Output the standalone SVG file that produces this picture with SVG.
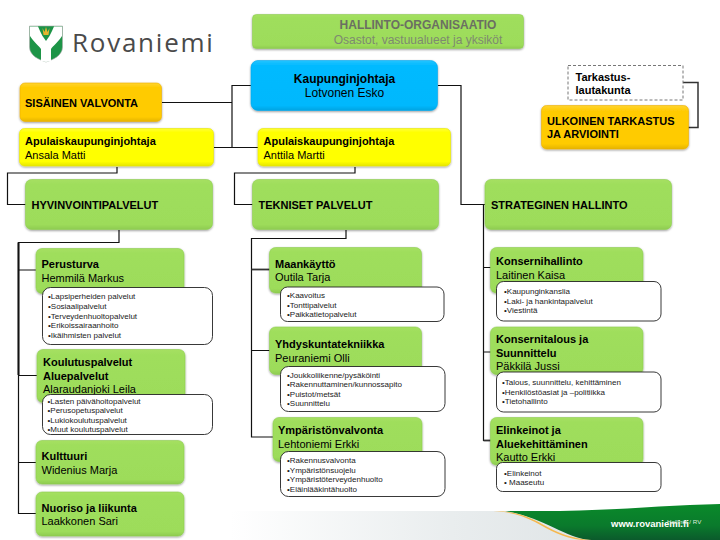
<svg xmlns="http://www.w3.org/2000/svg" width="720" height="540" viewBox="0 0 720 540">
<style>
text{font-family:"Liberation Sans",Arial,sans-serif;fill:#000}
.t{font-size:11px}
.l{font-size:12px}
.b{font-weight:bold}
.s{font-size:8px;fill:#1a1a1a}
.g{fill:url(#gr);stroke:#8fcf52;stroke-width:.6;filter:url(#sh)}
.y{fill:url(#ye);stroke:#e8e800;stroke-width:.6;filter:url(#sh)}
.o{fill:url(#or);stroke:#eeb000;stroke-width:.6;filter:url(#sh)}
.w{fill:#fff;stroke:#222;stroke-width:.9}
.c{fill:none;stroke:#111;stroke-width:1.2}
</style>
<defs>
<linearGradient id="gr" x1="0" y1="0" x2="0" y2="1"><stop offset="0" stop-color="#a6e062"/><stop offset=".1" stop-color="#9fde5c"/><stop offset=".9" stop-color="#9ddc5a"/><stop offset="1" stop-color="#8ecb50"/></linearGradient>
<linearGradient id="ye" x1="0" y1="0" x2="0" y2="1"><stop offset="0" stop-color="#ffff30"/><stop offset=".12" stop-color="#ffff00"/><stop offset=".88" stop-color="#ffff00"/><stop offset="1" stop-color="#e6e600"/></linearGradient>
<linearGradient id="or" x1="0" y1="0" x2="0" y2="1"><stop offset="0" stop-color="#ffd430"/><stop offset=".12" stop-color="#ffcb05"/><stop offset=".88" stop-color="#ffcb00"/><stop offset="1" stop-color="#e5b400"/></linearGradient>
<linearGradient id="bl" x1="0" y1="0" x2="0" y2="1"><stop offset="0" stop-color="#25c4ff"/><stop offset=".1" stop-color="#00baff"/><stop offset=".9" stop-color="#00b8fd"/><stop offset="1" stop-color="#00a4e2"/></linearGradient>
<linearGradient id="grey" x1="0" y1="0" x2="1" y2="0"><stop offset="0" stop-color="#fff"/><stop offset=".6" stop-color="#e9edee"/><stop offset="1" stop-color="#dfe4e6"/></linearGradient>
<linearGradient id="dk" x1="0" y1="0" x2="0" y2="1"><stop offset="0" stop-color="#0a8a2a"/><stop offset=".6" stop-color="#0a7a2c"/><stop offset="1" stop-color="#0b5a2c"/></linearGradient>
<filter id="sh" x="-5%" y="-5%" width="110%" height="125%"><feDropShadow dx="0" dy="1" stdDeviation=".8" flood-color="#000" flood-opacity=".4"/></filter>
</defs>

<g id="footer">
<rect x="230" y="511" width="370" height="29" fill="url(#grey)"/>
<path d="M505 511H560C620 510 670 505 720 504V540H590C565 538 545 518 505 511Z" fill="url(#dk)"/>
<path d="M493 511C515 511 530 517 542 524C558 533 572 539 592 540H582C562 538 550 530 535 522C522 515 510 512 493 511Z" fill="#f5b84f"/>
<text x="611" y="527" style="font-size:9.500px;font-weight:bold;fill:#fff">www.rovaniemi.fi</text>
<text x="667" y="524" style="font-size:6.200px;fill:#dfeadf">Hallinta / RV</text>
</g>

<g id="logo">
<path d="M29.500 26H62.500V47C62.500 56 52 60 46 62C40 60 29.500 56 29.500 47Z" fill="#1d9447" stroke="#aaa" stroke-width=".6"/>
<path d="M30 26.500H38L40 31L42.500 36L46 41L49.500 36L52 31L54 26.500H62V36C58 42 53 46 51 49V61L46 62L41 61V49C39 46 34 42 30 36Z" fill="#fff"/>
<path d="M42.500 28L44.500 32L46 27L47.500 32L49.500 28L48.500 35H43.500Z" fill="#e6b52e"/>
<text x="72" y="52" style="font-family:'Open Sans',sans-serif;font-size:26px;letter-spacing:1.750px;fill:#4a4a4a">Rovaniemi</text>
</g>

<g id="connectors">
<path class="c" d="M251 85.500H232V147.500M162 102.500H232M214 147.500H258"/>
<path class="c" d="M117 167V173H7.500V204.500H26"/>
<path class="c" d="M355 167V173H234.500V204.500H253"/>
<path class="c" d="M438 85.500H461V204.500H485"/>
<path d="M683 82.500H698V127.500H688" fill="none" stroke="#333" stroke-width="1.500"/>
<path class="c" d="M119 230V242.500H18.500V513.500H36M18.500 270H36M18.500 375.500H37M18.500 462.500H36"/>
<path d="M18.500 242.500V375" fill="none" stroke="#111" stroke-width="2"/>
<path class="c" d="M346 230V238.500H251.500V437H273M251.500 350.500H270"/>
<path d="M251.500 269.500H270" fill="none" stroke="#333" stroke-width="1.800"/>
<path class="c" d="M483.500 205V440.500H491M483.500 267.500H491M483.500 352H491"/>
<path d="M483.500 440.500H491" fill="none" stroke="#333" stroke-width="1.800"/>
</g>

<g id="title"><rect class="g" x="252.500" y="14.500" width="271" height="34" rx="4"/>
<text x="418" y="29" text-anchor="middle" class="l b" style="fill:#6b6f62">HALLINTO-ORGANISAATIO</text>
<text x="418" y="43.500" text-anchor="middle" class="l" style="fill:#7d8a70">Osastot, vastuualueet ja yksiköt</text></g>

<g id="kaupunginjohtaja"><rect x="251" y="60.500" width="186.500" height="50" rx="7" fill="url(#bl)" stroke="#00a8ec" stroke-width=".6" filter="url(#sh)"/>
<text x="344.500" y="82.500" text-anchor="middle" class="l b">Kaupunginjohtaja</text>
<text x="344.500" y="97" text-anchor="middle" class="l">Lotvonen Esko</text></g>

<g id="sisainen"><rect class="o" x="20" y="83" width="141.500" height="38.500" rx="5"/>
<text x="25" y="107" class="t b">SISÄINEN VALVONTA</text></g>

<g id="apulais1"><rect class="y" x="19.500" y="128.500" width="194" height="37.500" rx="5"/>
<text x="25" y="145" class="t b">Apulaiskaupunginjohtaja</text>
<text x="25" y="158.500" class="t">Ansala Matti</text></g>

<g id="apulais2"><rect class="y" x="258" y="128.500" width="192.500" height="37.500" rx="5"/>
<text x="263.500" y="145" class="t b">Apulaiskaupunginjohtaja</text>
<text x="263.500" y="158.500" class="t">Anttila Martti</text></g>

<g id="tarkastuslautakunta"><rect x="568" y="65.500" width="115" height="34.500" fill="#fff" stroke="#777" stroke-width="1" stroke-dasharray="3 2"/>
<text x="575.500" y="81" class="t b">Tarkastus-</text>
<text x="575.500" y="94" class="t b">lautakunta</text></g>

<g id="ulkoinen"><rect class="o" x="541.500" y="105.500" width="147" height="43.500" rx="5"/>
<text x="547" y="125" class="t b">ULKOINEN TARKASTUS</text>
<text x="547" y="138" class="t b">JA ARVIOINTI</text></g>

<g id="hyvinvointi"><rect class="g" x="25.500" y="179.500" width="187" height="50" rx="6"/>
<text x="31.500" y="209" class="t b">HYVINVOINTIPALVELUT</text></g>
<g id="tekniset"><rect class="g" x="252.500" y="179.500" width="186" height="50" rx="6"/>
<text x="258.500" y="209" class="t b">TEKNISET PALVELUT</text></g>
<g id="strateginen"><rect class="g" x="485" y="179.500" width="186.500" height="50" rx="6"/>
<text x="491" y="209" class="t b">STRATEGINEN HALLINTO</text></g>

<g id="perusturva"><rect class="g" x="36" y="248.500" width="148" height="45" rx="6"/>
<text x="41.500" y="268" class="t b">Perusturva</text>
<text x="41.500" y="281.500" class="t">Hemmilä Markus</text></g>
<g id="perusturva-list"><rect class="w" x="42.500" y="287.500" width="170" height="57" rx="8"/>
<text class="s" x="48" y="299">•Lapsiperheiden palvelut</text>
<text class="s" x="48" y="308.500">•Sosiaalipalvelut</text>
<text class="s" x="48" y="318.500">•Terveydenhuoltopalvelut</text>
<text class="s" x="48" y="328">•Erikoissairaanhoito</text>
<text class="s" x="48" y="337.500">•Ikäihmisten palvelut</text></g>

<g id="koulutus"><rect class="g" x="37" y="349.500" width="148" height="53" rx="6"/>
<text x="43" y="366" class="t b">Koulutuspalvelut</text>
<text x="43" y="379.500" class="t b">Aluepalvelut</text>
<text x="43" y="393" class="t">Alaraudanjoki Leila</text></g>
<g id="koulutus-list"><rect class="w" x="42.500" y="394.500" width="170" height="40" rx="8"/>
<text class="s" x="47.500" y="403.500">•Lasten päivähoitopalvelut</text>
<text class="s" x="47.500" y="413">•Perusopetuspalvelut</text>
<text class="s" x="47.500" y="422.500">•Lukiokoulutuspalvelut</text>
<text class="s" x="47.500" y="432">•Muut koulutuspalvelut</text></g>

<g id="kulttuuri"><rect class="g" x="36" y="440.500" width="148" height="43.500" rx="6"/>
<text x="41.500" y="460" class="t b">Kulttuuri</text>
<text x="41.500" y="473.500" class="t">Widenius Marja</text></g>
<g id="nuoriso"><rect class="g" x="36" y="492" width="148" height="44" rx="6"/>
<text x="41.500" y="512" class="t b">Nuoriso ja liikunta</text>
<text x="41.500" y="525" class="t">Laakkonen Sari</text></g>

<g id="maankaytto"><rect class="g" x="269.500" y="247.500" width="152" height="45.500" rx="6"/>
<text x="275" y="267.500" class="t b">Maankäyttö</text>
<text x="275" y="281" class="t">Outila Tarja</text></g>
<g id="maankaytto-list"><rect class="w" x="280.500" y="287" width="163.500" height="34.500" rx="7"/>
<text class="s" x="287" y="298">•Kaavoitus</text>
<text class="s" x="287" y="307.500">•Tonttipalvelut</text>
<text class="s" x="287" y="317">•Paikkatietopalvelut</text></g>

<g id="yhdyskunta"><rect class="g" x="269.500" y="327" width="152" height="47.500" rx="6"/>
<text x="275" y="348" class="t b">Yhdyskuntatekniikka</text>
<text x="275" y="361.500" class="t">Peuraniemi Olli</text></g>
<g id="yhdyskunta-list"><rect class="w" x="280.500" y="366.500" width="164.500" height="45" rx="8"/>
<text class="s" x="287" y="377.500">•Joukkoliikenne/pysäköinti</text>
<text class="s" x="287" y="387">•Rakennuttaminen/kunnossapito</text>
<text class="s" x="287" y="396.500">•Puistot/metsät</text>
<text class="s" x="287" y="406">•Suunnittelu</text></g>

<g id="ymparisto"><rect class="g" x="273" y="417.500" width="149" height="44" rx="6"/>
<text x="278" y="434" class="t b">Ympäristönvalvonta</text>
<text x="278" y="448" class="t">Lehtoniemi Erkki</text></g>
<g id="ymparisto-list"><rect class="w" x="280.500" y="451.500" width="164.500" height="45" rx="8"/>
<text class="s" x="287" y="463">•Rakennusvalvonta</text>
<text class="s" x="287" y="472.500">•Ympäristönsuojelu</text>
<text class="s" x="287" y="482">•Ympäristöterveydenhuolto</text>
<text class="s" x="287" y="491.500">•Eläinlääkintähuolto</text></g>

<g id="konsernihallinto"><rect class="g" x="490.500" y="247.500" width="152.500" height="45.500" rx="6"/>
<text x="496" y="265" class="t b">Konsernihallinto</text>
<text x="496" y="278.500" class="t">Laitinen Kaisa</text></g>
<g id="konsernihallinto-list"><rect class="w" x="496.500" y="281.500" width="164.500" height="39.500" rx="7"/>
<text class="s" x="504" y="294">•Kaupunginkanslia</text>
<text class="s" x="504" y="303.500">•Laki- ja hankintapalvelut</text>
<text class="s" x="504" y="313">•Viestintä</text></g>

<g id="konsernitalous"><rect class="g" x="490.500" y="327" width="152.500" height="47.500" rx="6"/>
<text x="496" y="343" class="t b">Konsernitalous ja</text>
<text x="496" y="356.500" class="t b">Suunnittelu</text>
<text x="496" y="369.500" class="t">Päkkilä Jussi</text></g>
<g id="konsernitalous-list"><rect class="w" x="496.500" y="372" width="164.500" height="40" rx="7"/>
<text class="s" x="502" y="385">•Talous, suunnittelu, kehittäminen</text>
<text class="s" x="502" y="394.500">•Henkilöstöasiat ja –politiikka</text>
<text class="s" x="502" y="404">•Tietohallinto</text></g>

<g id="elinkeinot"><rect class="g" x="490.500" y="417.500" width="152.500" height="47.500" rx="6"/>
<text x="496" y="434" class="t b">Elinkeinot ja</text>
<text x="496" y="447.500" class="t b">Aluekehittäminen</text>
<text x="496" y="460.500" class="t">Kautto Erkki</text></g>
<g id="elinkeinot-list"><rect class="w" x="496.500" y="462.500" width="164.500" height="29" rx="6"/>
<text class="s" x="504" y="475.500">•Elinkeinot</text>
<text class="s" x="504" y="485">• Maaseutu</text></g>
</svg>
